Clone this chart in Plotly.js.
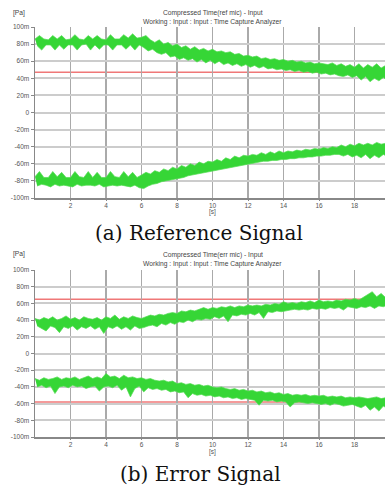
<!DOCTYPE html>
<html>
<head>
<meta charset="utf-8">
<script src="https://cdn.plot.ly/plotly-3.0.1.min.js"></script>
<style>
html,body{margin:0;padding:0;background:#fff;overflow:hidden;width:385px;height:486px;}
#chart{width:391px;height:500px;}
</style>
</head>
<body>
<div id="chart"></div>
<script>
// sample step of the compressed-time envelope (seconds)
const sampleStep = 0.25;
const xTickVals = [2, 4, 6, 8, 10, 12, 14, 16, 18, 20];
const yTickVals = [-100, -80, -60, -40, -20, 0, 20, 40, 60, 80, 100];
const yTickText = ["-100m", "-80m", "-60m", "-40m", "-20m", "0", "20m", "40m", "60m", "80m", "100m"];

// (a) Reference signal – positive envelope band (mPa): max / min per sample
const refUpperHi = [86,90,86,85,90,86,90,85,86,91,86,85,90,86,90,86,85,91,86,86,91,87,92,87,
  88,90,85,82,85,80,82,78,80,76,78,74,77,73,75,72,74,71,72,70,71,68,69,66,67,65,66,63,64,62,63,61,62,60,61,59,60,58,59,57,58,57,56,58,55,57,54,56,53,57,52,56,53,57,52,55];
const refUpperLo = [78,73,79,79,73,79,74,79,79,73,79,80,73,79,74,79,79,73,79,79,74,79,73,79,
  76,72,74,70,68,70,65,66,62,64,61,63,59,62,58,61,57,60,56,58,55,57,54,56,53,55,52,54,51,52,50,51,49,50,48,49,47,48,46,47,45,46,44,45,43,42,44,41,43,38,42,36,40,37,41,37];
// (a) Reference signal – negative envelope band
const refLowerHi = [-75,-69,-76,-76,-69,-75,-70,-76,-76,-69,-75,-76,-69,-76,-70,-76,-76,-69,-75,-76,-69,-75,-70,-76,
  -73,-70,-72,-68,-70,-66,-68,-64,-66,-62,-64,-60,-62,-58,-60,-57,-58,-55,-57,-53,-55,-51,-53,-50,-51,-49,-50,-47,-49,-46,-48,-45,-47,-45,-46,-44,-45,-43,-44,-42,-43,-41,-42,-40,-41,-38,-40,-37,-39,-36,-38,-36,-38,-35,-37,-36];
const refLowerLo = [-86,-84,-85,-87,-84,-86,-85,-86,-87,-84,-86,-85,-85,-86,-84,-87,-86,-85,-86,-85,-86,-87,-85,-88,
  -89,-86,-84,-83,-81,-80,-79,-78,-77,-76,-74,-73,-72,-71,-70,-69,-68,-67,-66,-65,-64,-63,-62,-61,-60,-59,-58,-57,-57,-56,-56,-55,-55,-54,-54,-53,-53,-52,-52,-51,-51,-50,-50,-49,-49,-51,-49,-52,-50,-53,-49,-54,-50,-53,-49,-52];

// (b) Error signal – positive envelope band
const errUpperHi = [42,40,43,41,44,40,42,45,41,43,40,44,42,41,43,40,44,42,46,41,44,42,45,43,
  42,44,46,45,47,46,48,49,48,51,50,52,51,53,55,53,55,54,56,55,57,55,57,56,58,57,58,57,59,58,60,59,62,60,61,60,62,61,63,61,64,62,63,62,64,63,65,64,66,64,67,70,74,68,72,67];
const errUpperLo = [33,30,27,33,31,25,32,30,33,28,32,30,33,29,32,24,32,30,33,29,32,28,33,30,
  31,33,34,32,36,34,37,35,38,37,40,38,41,40,42,41,44,42,45,38,46,45,47,46,48,46,49,42,50,49,51,50,51,52,53,52,53,52,54,53,54,53,55,54,55,52,56,55,54,56,55,57,54,57,56,58];
// (b) Error signal – negative envelope band
const errLowerHi = [-30,-32,-29,-31,-30,-28,-31,-29,-30,-28,-31,-29,-27,-30,-28,-30,-24,-28,-27,-30,-26,-29,-28,-30,
  -29,-31,-30,-32,-33,-32,-34,-33,-36,-35,-37,-36,-38,-37,-39,-38,-40,-41,-40,-42,-43,-42,-44,-43,-45,-44,-46,-45,-47,-46,-48,-47,-49,-48,-50,-49,-50,-49,-51,-50,-51,-50,-52,-51,-52,-51,-53,-52,-53,-52,-53,-54,-53,-52,-54,-53];
const errLowerLo = [-40,-38,-41,-39,-48,-40,-39,-41,-38,-40,-39,-42,-40,-39,-45,-40,-39,-41,-38,-44,-40,-52,-42,-39,
  -46,-41,-43,-42,-44,-43,-46,-45,-47,-46,-53,-48,-50,-49,-51,-50,-52,-51,-53,-52,-54,-53,-55,-54,-55,-56,-62,-56,-57,-56,-58,-57,-58,-64,-59,-58,-59,-60,-59,-60,-61,-60,-62,-60,-61,-63,-62,-61,-63,-65,-62,-68,-64,-69,-63,-66];

// threshold lines (mPa)
const refThresholds = [47, -40];
const errThresholds = [65, -58];

const captions = ["(a) Reference Signal", "(b) Error Signal"];
const titleLines = [
  ["Compressed Time(ref mic) - Input", "Working : Input : Input : Time Capture Analyzer"],
  ["Compressed Time(err mic) - Input", "Working : Input : Input : Time Capture Analyzer"]
];

const green = "#36d636";

// filled envelope polygon (max edge forward, min edge back)
function band(hi, lo, xa, ya) {
  const xs = [], ys = [];
  for (let i = 0; i < hi.length; i++) { xs.push(i * sampleStep); ys.push(hi[i]); }
  for (let i = lo.length - 1; i >= 0; i--) { xs.push(i * sampleStep + sampleStep / 2); ys.push(lo[i]); }
  return {x: xs, y: ys, xaxis: xa, yaxis: ya, mode: "lines", type: "scatter", fill: "toself",
    fillcolor: green, line: {color: "#52dc52", width: 0.7}, hoverinfo: "skip", showlegend: false};
}

const traces = [
  band(refUpperHi, refUpperLo, "x", "y"),
  band(refLowerHi, refLowerLo, "x", "y"),
  band(errUpperHi, errUpperLo, "x2", "y2"),
  band(errLowerHi, errLowerLo, "x2", "y2")
];

const shapes = [];
refThresholds.forEach(v => shapes.push({type: "line", xref: "x domain", yref: "y", x0: 0, x1: 1, y0: v, y1: v,
  line: {color: "#f07878", width: 1.6}, layer: "below"}));
errThresholds.forEach(v => shapes.push({type: "line", xref: "x2 domain", yref: "y2", x0: 0, x1: 1, y0: v, y1: v,
  line: {color: "#f07878", width: 1.6}, layer: "below"}));

const tickFont = {family: "Liberation Sans, Arial, sans-serif", size: 6.5, color: "#555"};

function xAxis(anchor) {
  return {anchor: anchor, range: [0, 20], tickvals: xTickVals, ticktext: xTickVals.map(String),
    showgrid: true, gridcolor: "#aaaaaa", gridwidth: 1.6, zeroline: false,
    showline: true, linecolor: "#888", linewidth: 1.5,
    ticks: "outside", ticklen: 1, tickcolor: "#888", tickfont: tickFont, fixedrange: true};
}
function yAxis(anchor, domain) {
  return {anchor: anchor, domain: domain, range: [-100, 100], tickvals: yTickVals, ticktext: yTickText,
    showgrid: true, gridcolor: "#cccccc", gridwidth: 2, zeroline: false,
    showline: true, linecolor: "#888", linewidth: 1.5,
    ticks: "outside", ticklen: 3, tickcolor: "#888", tickfont: tickFont, fixedrange: true};
}

const H = 500, mt = 27, mb = H - 437, ph = H - mt - mb;
const py = pix => (H - mb - pix) / ph;
const pxX = pix => (pix - 35) / 355;

const smallFont = {family: "Liberation Sans, Arial, sans-serif", size: 6.7, color: "#444"};
const capFont = {family: "DejaVu Serif, Liberation Serif, serif", size: 20, color: "#111"};

function ann(text, x, xref, yPix, font) {
  return {text: text, x: x, xref: xref, y: py(yPix), yref: "paper", xanchor: "center", yanchor: "middle",
    showarrow: false, font: font};
}

const annotations = [
  ann(titleLines[0][0], 0.5, "paper", 13, smallFont),
  ann(titleLines[0][1], 0.5, "paper", 22, smallFont),
  ann("[Pa]", pxX(19), "paper", 13, smallFont),
  ann("[s]", 10, "x", 212, tickFont),
  ann(captions[0], pxX(199), "paper", 233, capFont),
  ann(titleLines[1][0], 0.5, "paper", 255, smallFont),
  ann(titleLines[1][1], 0.5, "paper", 264, smallFont),
  ann("[Pa]", pxX(19), "paper", 254, smallFont),
  ann("[s]", 10, "x2", 452, tickFont),
  ann(captions[1], pxX(200), "paper", 474, capFont)
];

const layout = {
  width: 391, height: H,
  margin: {l: 35, r: 1, t: mt, b: mb},
  paper_bgcolor: "#fff", plot_bgcolor: "#fff",
  showlegend: false,
  xaxis: xAxis("y"),
  yaxis: yAxis("x", [py(198), 1]),
  xaxis2: xAxis("y2"),
  yaxis2: yAxis("x2", [0, py(270)]),
  shapes: shapes,
  annotations: annotations
};

Plotly.newPlot("chart", traces, layout, {displayModeBar: false, staticPlot: true});
</script>
</body>
</html>
